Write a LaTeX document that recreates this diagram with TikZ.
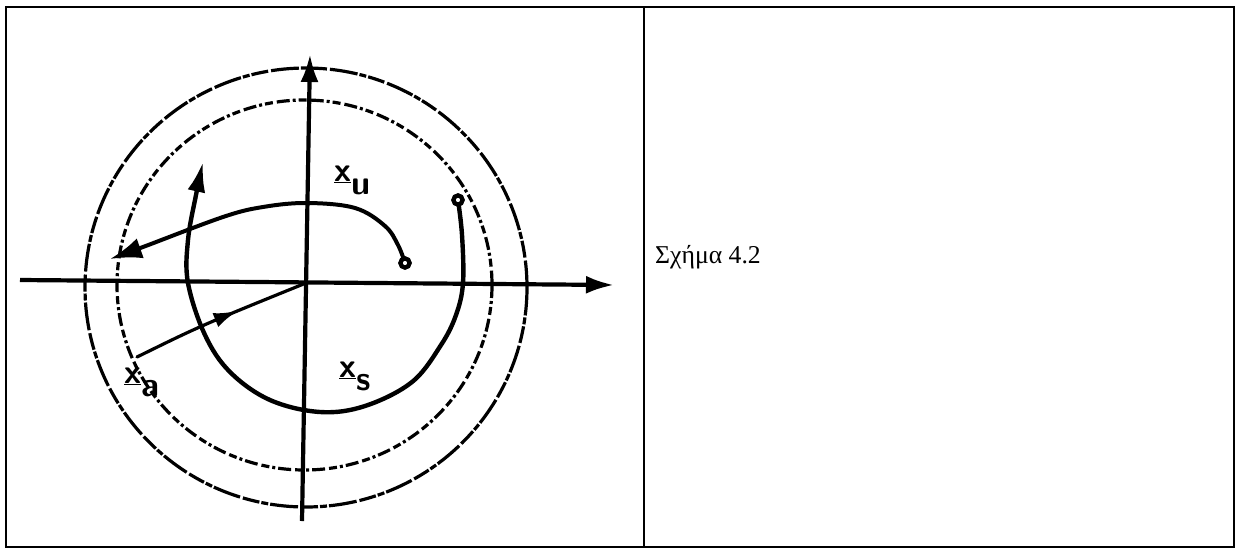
\documentclass[tikz,border=0pt]{standalone}
\usepackage{fontspec}
\usetikzlibrary{arrows.meta,decorations.markings}
\newfontfamily\captionfont{Liberation Serif}
\newcommand{\statevec}[1]{\underline{x}\kern0.5pt\raisebox{-13pt}{#1}}
\definecolor{scanink}{HTML}{000000}

\begin{document}
\begin{tikzpicture}[
  x=1pt,
  y=-1pt,
  every node/.style={scanink},
  frame/.style={scanink, line width=2pt},
  axis/.style={scanink, line width=4.2pt, -{Latex[length=28pt, width=18pt]}},
  orbit/.style={scanink, line width=4.4pt, line cap=round},
  contour/.style={scanink, line width=3.2pt},
  ring/.style={circle, draw=scanink, line width=4.2pt, fill=white, inner sep=0pt, minimum size=9pt},
  statelabel/.style={font=\sffamily\bfseries\fontsize{34}{34}\selectfont, inner sep=0pt, anchor=base west},
  midarrow/.style={postaction={decorate},
    decoration={markings, mark=at position 0.6 with {\arrow{Latex[length=24pt, width=15pt]}}}}
]
  % ---- page of the table: two cells ----
  \useasboundingbox (0,0) rectangle (1236,549);
  \draw[frame] (6,7) rectangle (1234,547);
  \draw[frame] (644,7) -- (644,547);

  % ---- level curves round the origin ----
  \draw[contour, dash pattern=on 28pt off 2pt on 7pt off 2pt on 17pt off 3pt]
    (306,287.5) ellipse [x radius=221, y radius=219.5];
  \draw[contour, dash pattern=on 13pt off 3pt on 3pt off 3pt on 8pt off 4pt]
    (304.5,285) ellipse [x radius=187.5, y radius=185];

  % ---- axes ----
  \coordinate (O) at (306,283);
  \coordinate (xleft) at (20,280);
  \coordinate (xright) at (614,285);
  \coordinate (ybot) at (302,521);
  \coordinate (ytop) at (310,54);
  \draw[axis] (xleft) -- (xright);
  \draw[axis] (ybot) -- (ytop);

  % ---- start points of the two trajectories ----
  \node[ring] (sstart) at (458,200) {};
  \node[ring] (ustart) at (405,263) {};
  \coordinate (stip) at (203,162);
  \coordinate (utip) at (110,259);
  \coordinate (astart) at (137,357);

  % ---- trajectory on the stable side: winds round and leaves upward ----
  \draw[orbit, -{Latex[length=30pt, width=18pt]}] plot[smooth, tension=0.6] coordinates {
    (sstart) (462,235) (463,283) (456,315) (441,345) (412,382) (365,406)
    (320,412) (270,400) (230,372) (205,335) (188,283) (188,240) (196,195) (stip)};

  % ---- trajectory on the unstable side ----
  \draw[orbit, line width=4pt, -{Latex[length=32pt, width=21pt]}] plot[smooth, tension=0.6] coordinates {
    (ustart) (398,245) (385,226) (355,208) (307,203) (263,207) (223,217)
    (143,247) (utip)};

  % ---- trajectory running into the origin ----
  \draw[orbit, line width=3.2pt, midarrow] (astart) .. controls (200,326) .. (O);

  % ---- redraw the rings on top ----
  \node[ring] at (sstart) {};
  \node[ring] at (ustart) {};

  % ---- labels ----
  \node[statelabel] (lu) at (334,181) {\statevec{u}};
  \node[statelabel] (ls) at (339,377) {\statevec{s}};
  \node[statelabel] (la) at (124,383) {\statevec{a}};
  \node[anchor=base west, inner sep=0pt, font=\captionfont\fontsize{25.7}{30}\selectfont]
    (caption) at (655,263) {Σχήμα 4.2};
\end{tikzpicture}
\end{document}
